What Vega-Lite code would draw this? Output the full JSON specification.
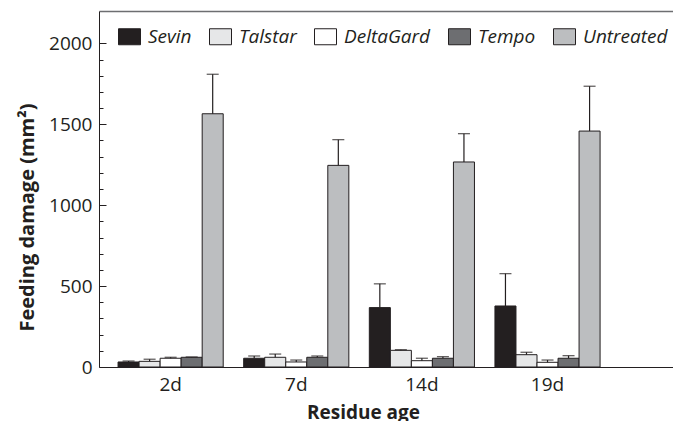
{
  "$schema": "https://vega.github.io/schema/vega-lite/v6.json",
  "autosize": "none",
  "padding": {"left": 99, "top": 11, "right": 0, "bottom": 54},
  "width": 575,
  "height": 356,
  "config": {
    "view": {"stroke": null},
    "font": "Open Sans",
    "axis": {"labelFont": "Open Sans", "titleFont": "Open Sans", "labelColor": "#231f20", "titleColor": "#231f20"}
  },
  "data": {
    "values": [
      {"age": "2d", "treatment": "Sevin", "value": 31, "upper": 37},
      {"age": "2d", "treatment": "Talstar", "value": 35, "upper": 48},
      {"age": "2d", "treatment": "DeltaGard", "value": 54, "upper": 60},
      {"age": "2d", "treatment": "Tempo", "value": 60, "upper": 62},
      {"age": "2d", "treatment": "Untreated", "value": 1565, "upper": 1809},
      {"age": "7d", "treatment": "Sevin", "value": 54, "upper": 68},
      {"age": "7d", "treatment": "Talstar", "value": 60, "upper": 80},
      {"age": "7d", "treatment": "DeltaGard", "value": 31, "upper": 43},
      {"age": "7d", "treatment": "Tempo", "value": 60, "upper": 68},
      {"age": "7d", "treatment": "Untreated", "value": 1246, "upper": 1405},
      {"age": "14d", "treatment": "Sevin", "value": 367, "upper": 514},
      {"age": "14d", "treatment": "Talstar", "value": 103, "upper": 107},
      {"age": "14d", "treatment": "DeltaGard", "value": 39, "upper": 54},
      {"age": "14d", "treatment": "Tempo", "value": 54, "upper": 64},
      {"age": "14d", "treatment": "Untreated", "value": 1267, "upper": 1442},
      {"age": "19d", "treatment": "Sevin", "value": 377, "upper": 577},
      {"age": "19d", "treatment": "Talstar", "value": 76, "upper": 91},
      {"age": "19d", "treatment": "DeltaGard", "value": 29, "upper": 43},
      {"age": "19d", "treatment": "Tempo", "value": 54, "upper": 70},
      {"age": "19d", "treatment": "Untreated", "value": 1458, "upper": 1735}
    ]
  },
  "resolve": {"axis": {"y": "independent", "x": "independent"}},
  "layer": [
    {
      "mark": {"type": "bar", "stroke": "#231f20", "strokeWidth": 1},
      "encoding": {
        "x": {
          "field": "age", "type": "nominal", "sort": ["2d", "7d", "14d", "19d"],
          "scale": {"paddingInner": 0.163, "paddingOuter": 0.37, "align": 0.205},
          "axis": {
            "orient": "bottom",
            "title": "Residue age", "labelAngle": 0, "ticks": false, "labelFontSize": 19, "labelPadding": 8,
            "domainColor": "#231f20", "domainWidth": 1,
            "titleFontSize": 19, "titleFontWeight": "bold", "titleX": 264, "titleY": 51, "titleBaseline": "alphabetic"
          }
        },
        "xOffset": {
          "field": "treatment", "type": "nominal",
          "sort": ["Sevin", "Talstar", "DeltaGard", "Tempo", "Untreated"],
          "scale": {"paddingInner": 0, "paddingOuter": 0}
        },
        "y": {
          "field": "value", "type": "quantitative",
          "scale": {"domain": [0, 2200], "nice": false},
          "axis": {
            "orient": "left",
            "title": "Feeding damage (mm²)",
            "values": [0, 500, 1000, 1500, 2000],
            "format": "d",
            "labelOverlap": false,
            "labelFontSize": 19, "labelPadding": 14,
            "grid": false,
            "tickSize": -7,
            "tickColor": "#231f20", "tickWidth": 1,
            "domainColor": "#231f20", "domainWidth": 1,
            "titleFontSize": 20, "titleFontWeight": "bold",
            "titleX": -66, "titleY": 206, "titleAlign": "center", "titleBaseline": "alphabetic", "titleAngle": -90
          }
        },
        "fill": {
          "field": "treatment", "type": "nominal",
          "sort": ["Sevin", "Talstar", "DeltaGard", "Tempo", "Untreated"],
          "scale": {
            "domain": ["Sevin", "Talstar", "DeltaGard", "Tempo", "Untreated"],
            "range": ["#231f20", "#e6e7e8", "#ffffff", "#6d6e71", "#bcbec0"]
          },
          "legend": {
            "title": null,
            "orient": "none",
            "direction": "horizontal",
            "legendX": 21,
            "legendY": 16,
            "padding": 0,
            "symbolType": "M-1.375,-1H1.375V1H-1.375Z",
            "symbolSize": 256,
            "symbolStrokeColor": "#231f20",
            "symbolStrokeWidth": 1,
            "symbolOpacity": 1,
            "labelOffset": 9,
            "columnPadding": 15,
            "labelFont": "Open Sans",
            "labelFontStyle": "italic",
            "labelFontSize": 19,
            "labelColor": "#231f20",
            "labelLimit": 200
          }
        }
      }
    },
    {
      "mark": {"type": "rule", "color": "#231f20", "strokeWidth": 1.2},
      "encoding": {
        "x": {
          "field": "age", "type": "nominal", "sort": ["2d", "7d", "14d", "19d"],
          "axis": {"orient": "top", "title": null, "labels": false, "ticks": false, "grid": false, "domainColor": "#6d6e71", "domainWidth": 1.5}
        },
        "xOffset": {"field": "treatment", "type": "nominal", "sort": ["Sevin", "Talstar", "DeltaGard", "Tempo", "Untreated"]},
        "y": {"field": "value", "type": "quantitative", "axis": null},
        "y2": {"field": "upper"}
      }
    },
    {
      "mark": {"type": "tick", "color": "#231f20", "size": 12, "thickness": 1.3},
      "encoding": {
        "x": {"field": "age", "type": "nominal", "sort": ["2d", "7d", "14d", "19d"], "axis": null},
        "xOffset": {"field": "treatment", "type": "nominal", "sort": ["Sevin", "Talstar", "DeltaGard", "Tempo", "Untreated"]},
        "y": {
          "field": "upper", "type": "quantitative",
          "axis": {
            "orient": "left",
            "title": null,
            "values": [100, 200, 300, 400, 600, 700, 800, 900, 1100, 1200, 1300, 1400, 1600, 1700, 1800, 1900],
            "labels": false,
            "domain": false,
            "grid": false,
            "tickSize": -4,
            "tickColor": "#231f20", "tickWidth": 1
          }
        }
      }
    }
  ]
}
